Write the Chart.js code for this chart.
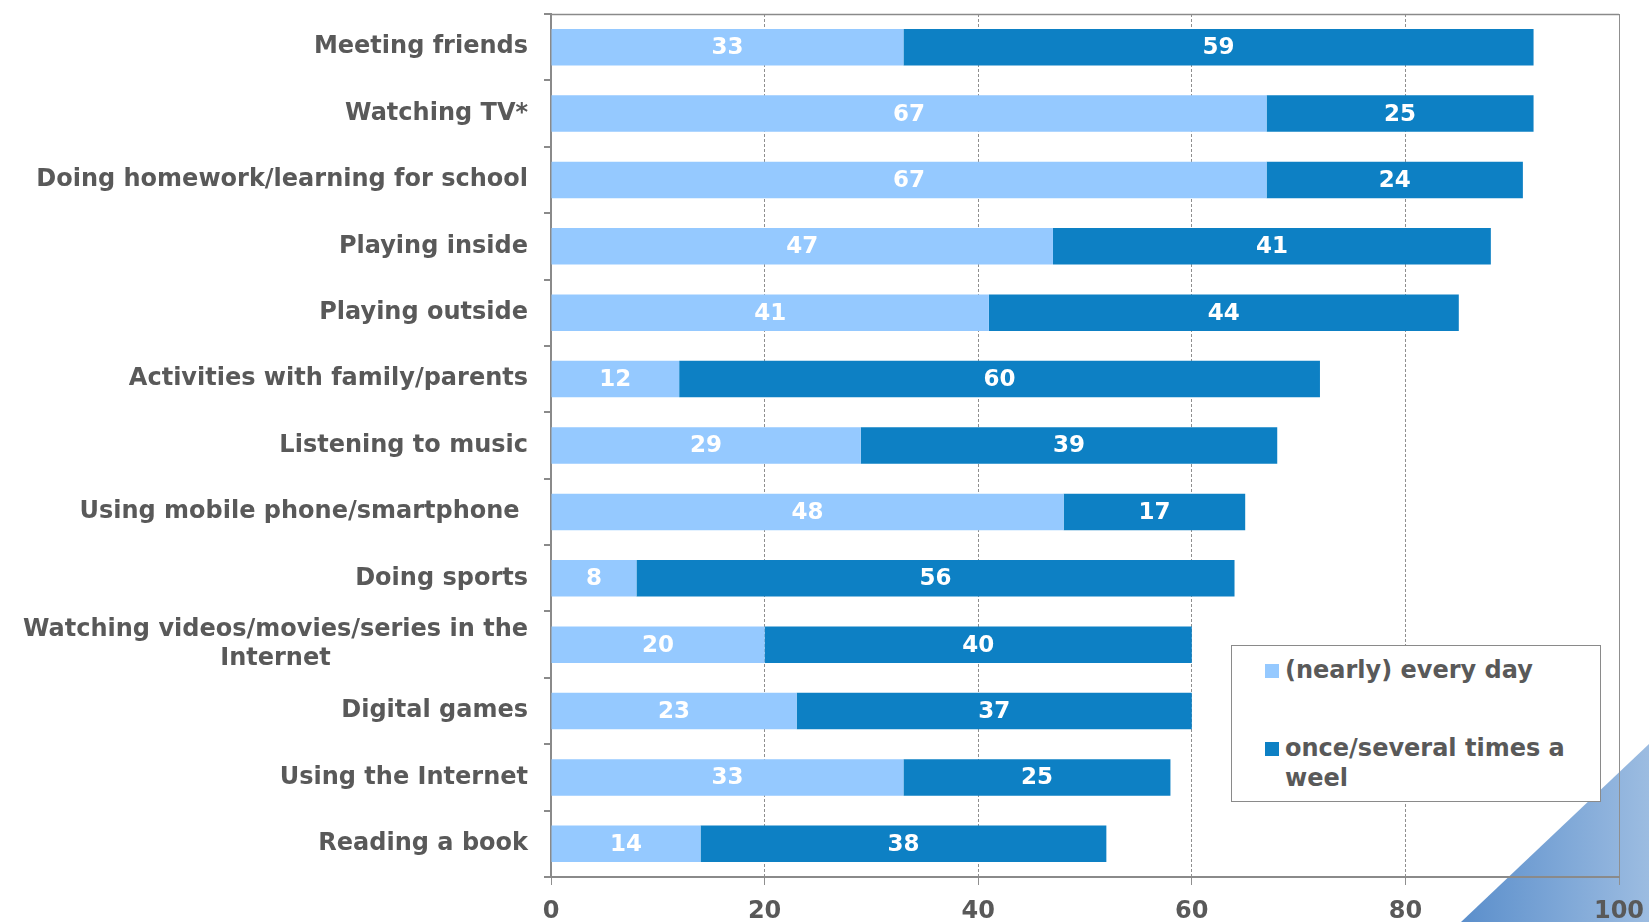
<!DOCTYPE html>
<html>
<head>
<meta charset="utf-8">
<title>Leisure activities</title>
<script src="https://cdn.jsdelivr.net/npm/chart.js@4.4.1/dist/chart.umd.min.js"></script>
<style>
  html, body { margin: 0; padding: 0; background: #fff; }
  #wrap { position: relative; width: 1649px; height: 922px; overflow: hidden; }
  #legend {
    position: absolute; left: 1231px; top: 645px; width: 370px; height: 157px;
    box-sizing: border-box; border: 1px solid #8a8a8a; background: #fff;
    font: bold 24px "DejaVu Sans", Verdana, sans-serif; color: #595959;
  }
  #legend .sw { position: absolute; left: 33px; width: 14px; height: 14px; }
  #legend .tx { position: absolute; left: 53px; line-height: 30px; white-space: nowrap; }
</style>
</head>
<body>
<div id="wrap">
  <canvas id="chart"></canvas>
  <div id="legend">
    <span class="sw" id="sw0" style="top:18px"></span><span class="tx" id="tx0" style="top:9px"></span>
    <span class="sw" id="sw1" style="top:96px"></span><span class="tx" id="tx1" style="top:87px"></span>
  </div>
</div>
<script>
// ── Daten ────────────────────────────────────────────────────
const categories = [
  ['Meeting friends'],
  ['Watching TV*'],
  ['Doing homework/learning for school'],
  ['Playing inside'],
  ['Playing outside'],
  ['Activities with family/parents'],
  ['Listening to music'],
  ['Using mobile phone/smartphone '],
  ['Doing sports'],
  ['Watching videos/movies/series in the', 'Internet'],
  ['Digital games'],
  ['Using the Internet'],
  ['Reading a book']
];
const everyDay   = [33, 67, 67, 47, 41, 12, 29, 48, 8, 20, 23, 33, 14];
const weekly     = [59, 25, 24, 41, 44, 60, 39, 17, 56, 40, 37, 25, 38];
const seriesNames = [['(nearly) every day'], ['once/several times a', 'weel']];
const xTicks     = [0, 20, 40, 60, 80, 100];

const LIGHT = '#95c9ff';
const DARK  = '#0d80c4';
const TEXT  = '#595959';
const FONT  = '"DejaVu Sans", Verdana, sans-serif';

// ── Legende (HTML) ───────────────────────────────────────────
[LIGHT, DARK].forEach((c, i) => {
  document.getElementById('sw' + i).style.background = c;
  document.getElementById('tx' + i).innerHTML = seriesNames[i].join('<br>');
});

// ── Plugins: Deko-Ecke, Rahmen, Kategorien, Werte ────────────
const decor = {
  id: 'decor',
  beforeDraw(chart) {
    const { ctx, width, height } = chart;
    const g = ctx.createLinearGradient(width - 190, 0, width, 0);
    g.addColorStop(0, '#5a8ecb');
    g.addColorStop(1, '#9cbce1');
    ctx.save();
    ctx.fillStyle = g;
    ctx.beginPath();
    ctx.moveTo(width - 188, height);
    ctx.lineTo(width, height - 178);
    ctx.lineTo(width, height);
    ctx.closePath();
    ctx.fill();
    ctx.restore();
  },
  afterDraw(chart) {
    const { ctx, chartArea: a } = chart;
    ctx.save();
    ctx.strokeStyle = '#8a8a8a';
    ctx.lineWidth = 1.5;
    ctx.beginPath();
    ctx.moveTo(a.left, a.top + 0.5);
    ctx.lineTo(a.right, a.top + 0.5);
    ctx.stroke();
    ctx.restore();
  }
};

const catLabels = {
  id: 'catLabels',
  afterDraw(chart) {
    const { ctx, chartArea: a } = chart;
    const y = chart.scales.y;
    const right = a.left - 23;
    const lh = 29;
    ctx.save();
    ctx.font = 'bold 24px ' + FONT;
    ctx.fillStyle = TEXT;
    ctx.textAlign = 'center';
    ctx.textBaseline = 'middle';
    categories.forEach((lines, i) => {
      const w = Math.max(...lines.map(l => ctx.measureText(l).width));
      const cx = right - w / 2;
      const cy = y.getPixelForValue(i) - (lines.length - 1) * lh / 2;
      lines.forEach((l, k) => ctx.fillText(l, cx, cy + k * lh));
    });
    ctx.restore();
  }
};

const valueLabels = {
  id: 'valueLabels',
  afterDatasetsDraw(chart) {
    const { ctx } = chart;
    ctx.save();
    ctx.font = 'bold 23px ' + FONT;
    ctx.fillStyle = '#fff';
    ctx.textAlign = 'center';
    ctx.textBaseline = 'middle';
    chart.data.datasets.forEach((ds, di) => {
      chart.getDatasetMeta(di).data.forEach((bar, i) => {
        ctx.fillText(String(ds.data[i]), (bar.x + bar.base) / 2, bar.y + 1);
      });
    });
    ctx.restore();
  }
};

// ── Chart ────────────────────────────────────────────────────
new Chart(document.getElementById('chart'), {
  type: 'bar',
  data: {
    labels: categories.map(c => c.join(' ')),
    datasets: [
      { label: seriesNames[0].join(' '), data: everyDay, backgroundColor: LIGHT },
      { label: seriesNames[1].join(' '), data: weekly,   backgroundColor: DARK }
    ]
  },
  options: {
    indexAxis: 'y',
    responsive: true,
    maintainAspectRatio: false,
    animation: false,
    layout: { padding: { top: 14, right: 30, left: 0, bottom: 0 } },
    datasets: { bar: { barPercentage: 0.55, categoryPercentage: 1, borderWidth: 0 } },
    plugins: { legend: { display: false }, tooltip: { enabled: false } },
    scales: {
      x: {
        stacked: true,
        min: 0, max: 100,
        afterBuildTicks(scale) { scale.ticks = xTicks.map(v => ({ value: v })); },
        afterFit(scale) {
          scale.height = 45;
          scale.paddingLeft = 0;
          scale.paddingRight = 0;
        },
        grid: { color: '#8f8f8f', lineWidth: 1, tickLength: 8, tickColor: '#8f8f8f' },
        border: {
          color: '#8a8a8a', width: 2,
          dash: c => (c.tick && c.tick.value === 100) ? [] : [3, 2]
        },
        ticks: { color: TEXT, font: { family: FONT, size: 24, weight: 'bold' }, padding: 12, maxRotation: 0 }
      },
      y: {
        stacked: true,
        afterFit(scale) { scale.width = 551; },
        grid: { offset: true, drawOnChartArea: false, tickLength: 7, color: '#8a8a8a', lineWidth: 2 },
        border: { color: '#8a8a8a', width: 2 },
        ticks: { display: false }
      }
    }
  },
  plugins: [decor, catLabels, valueLabels]
});
</script>
</body>
</html>
